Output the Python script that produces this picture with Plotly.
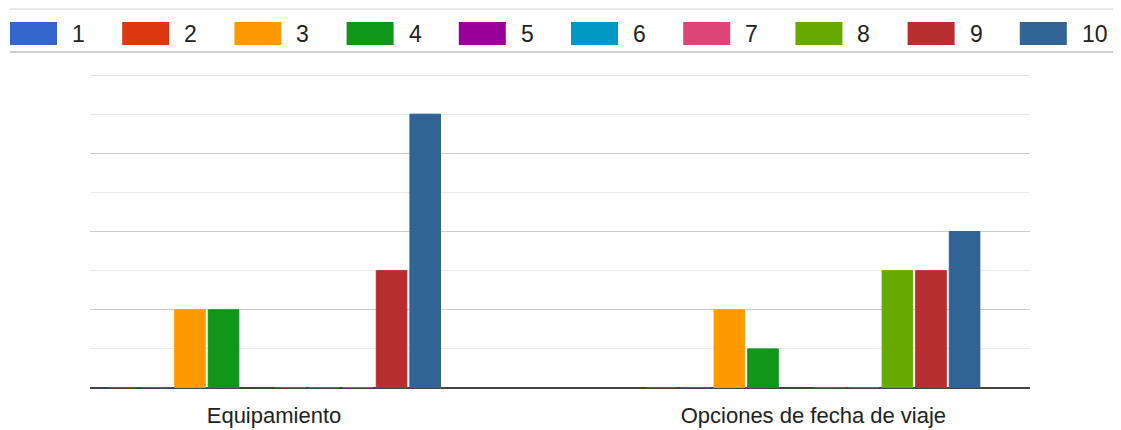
import plotly.graph_objects as go

categorias = ["Equipamiento", "Opciones de fecha de viaje"]
series = ["1", "2", "3", "4", "5", "6", "7", "8", "9", "10"]
colores = ["#3366cc", "#dc3912", "#ff9900", "#109618", "#990099",
           "#0099c6", "#dd4477", "#66aa00", "#b82e2e", "#316395"]

# votos por serie: [Equipamiento, Opciones de fecha de viaje]
valores_1 = [0, 0]
valores_2 = [0, 0]
valores_3 = [2, 2]
valores_4 = [2, 1]
valores_5 = [0, 0]
valores_6 = [0, 0]
valores_7 = [0, 0]
valores_8 = [0, 3]
valores_9 = [3, 3]
valores_10 = [7, 4]
valores = [valores_1, valores_2, valores_3, valores_4, valores_5,
           valores_6, valores_7, valores_8, valores_9, valores_10]

# la pagina tiene 8px de margen en el body
OFF = 8
W, H = 1121, 430
FW, FH = W - OFF, H - OFF
L, R, T, B = 90, 1030, 75, 388


def px(x):
    return (x - L) / (R - L)


def py(y):
    return (B - y) / (B - T)


fig = go.Figure()
for nombre, color, vals in zip(series, colores, valores):
    fig.add_trace(go.Bar(
        x=categorias,
        y=vals,
        name=nombre,
        marker=dict(color=color, line=dict(color=color, width=1)),
    ))

# leyenda dibujada a mano (cuadros grandes como en el original)
shapes = []
anotaciones = []
for i, (nombre, color) in enumerate(zip(series, colores)):
    x0 = 10 + i * 112.2
    shapes.append(dict(type="rect", xref="paper", yref="paper",
                       x0=px(x0), x1=px(x0 + 47), y0=py(22), y1=py(45),
                       fillcolor=color, line=dict(width=0)))
    anotaciones.append(dict(text=nombre, xref="paper", yref="paper",
                            x=px(x0 + 60), y=py(34), xanchor="left", yanchor="middle",
                            showarrow=False, font=dict(size=23, color="#222")))

shapes.append(dict(type="line", xref="paper", yref="paper",
                   x0=px(10), x1=px(W), y0=py(9), y1=py(9),
                   line=dict(color="#e8e8e8", width=2)))
shapes.append(dict(type="line", xref="paper", yref="paper",
                   x0=px(10), x1=px(W), y0=py(52), y1=py(52),
                   line=dict(color="#cccccc", width=2)))
# linea de rejilla superior (en el borde del area)
shapes.append(dict(type="line", xref="paper", yref="y", layer="below",
                   x0=0, x1=1, y0=8, y1=8,
                   line=dict(color="#cccccc", width=1)))

fig.update_layout(
    width=FW, height=FH,
    margin=dict(l=L - OFF, r=FW - (R - OFF), t=T - OFF, b=FH - (B - OFF)),
    barmode="group",
    bargap=0.377,
    bargroupgap=0.09,
    showlegend=False,
    plot_bgcolor="white",
    paper_bgcolor="white",
    font=dict(family="Arial, Liberation Sans", color="#222"),
    shapes=shapes,
    annotations=anotaciones,
)
fig.update_xaxes(
    type="category",
    range=[-0.3411, 1.4016],
    showgrid=False,
    showline=False,
    ticks="",
    automargin=False,
    ticklabelstandoff=12,
    tickfont=dict(size=22, color="#222"),
)
fig.update_yaxes(
    range=[0, 8],
    dtick=2,
    showticklabels=False,
    automargin=False,
    gridcolor="#cccccc",
    gridwidth=1,
    minor=dict(dtick=1, showgrid=True, gridcolor="#ebebeb", gridwidth=1),
    zeroline=True,
    zerolinecolor="#444",
    zerolinewidth=2,
)

fig.write_html("out.html")
